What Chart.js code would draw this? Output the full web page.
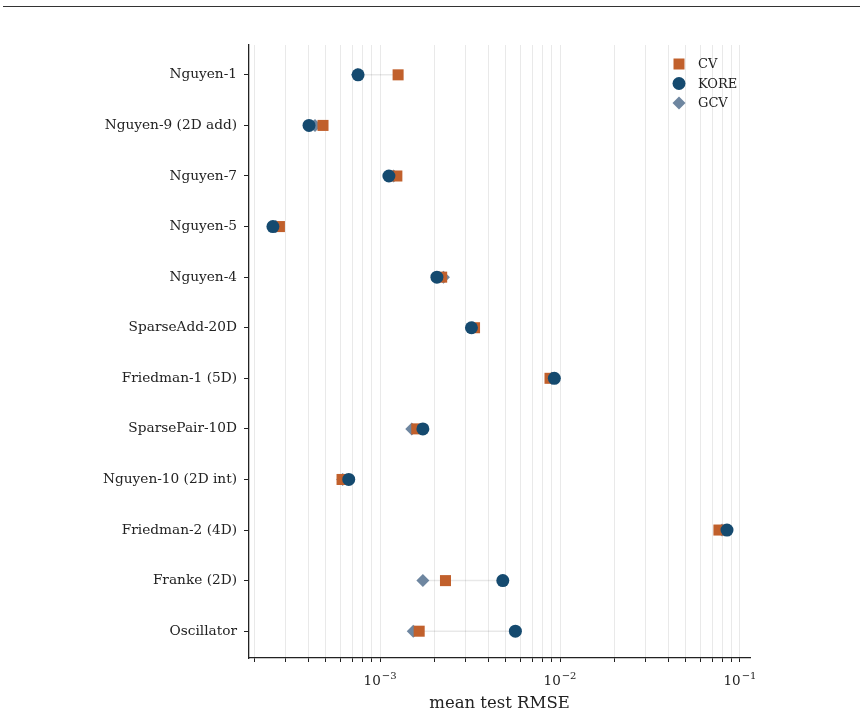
<!DOCTYPE html>
<html>
<head>
<meta charset="utf-8">
<title>mean test RMSE</title>
<script src="https://cdn.jsdelivr.net/npm/chart.js@4.4.0/dist/chart.umd.min.js"></script>
<style>
  html, body { margin: 0; padding: 0; background: #fff; }
  #wrap { position: relative; width: 862px; height: 718px; }
  #rule { position: absolute; left: 3px; right: 2px; top: 6px; border-top: 1.5px solid #333; }
  canvas { position: absolute; left: 0; top: 0; }
</style>
</head>
<body>
<div id="wrap">
  <div id="rule"></div>
  <canvas id="chart" width="862" height="718"></canvas>
</div>
<script>
// benchmarks, top to bottom
const benchmarks = [
  'Nguyen-1', 'Nguyen-9 (2D add)', 'Nguyen-7', 'Nguyen-5', 'Nguyen-4', 'SparseAdd-20D',
  'Friedman-1 (5D)', 'SparsePair-10D', 'Nguyen-10 (2D int)', 'Friedman-2 (4D)', 'Franke (2D)', 'Oscillator'
];
const cvRmse   = [1.26e-3, 4.82e-4, 1.24e-3, 2.76e-4, 2.20e-3, 3.35e-3, 8.80e-3, 1.60e-3, 6.15e-4, 0.0764, 2.31e-3, 1.65e-3];
const koreRmse = [7.55e-4, 4.03e-4, 1.12e-3, 2.54e-4, 2.07e-3, 3.22e-3, 9.30e-3, 1.73e-3, 6.70e-4, 0.0847, 4.81e-3, 5.65e-3];
const gcvRmse  = [7.50e-4, 4.35e-4, 1.19e-3, 2.64e-4, 2.25e-3, 3.28e-3, 9.00e-3, 1.50e-3, 6.20e-4, 0.0795, 1.73e-3, 1.53e-3];

const xMin = 1.87e-4, xMax = 0.1137;
const majorTicks = [1e-3, 1e-2, 1e-1];
const majorBase = ['10', '10', '10'];
const majorExp = ['−3', '−2', '−1'];
const decades = [1e-4, 1e-3, 1e-2];
const minorSteps = [2, 3, 4, 5, 6, 7, 8, 9];

const SERIF = '"DejaVu Serif", "Liberation Serif", serif';
const INK = '#222';

const series = [
  { label: 'CV',   values: cvRmse,   color: '#c1602c', style: 'rect',    radius: 7.8, order: 1 },
  { label: 'KORE', values: koreRmse, color: '#154a6f', style: 'circle',  radius: 6.5, order: 0 },
  { label: 'GCV',  values: gcvRmse,  color: '#6e86a0', style: 'rectRot', radius: 6.5, order: 2 }
];

const datasets = series.map(s => ({
  label: s.label,
  data: s.values.map((v, i) => ({ x: v, y: i })),
  backgroundColor: s.color,
  borderColor: s.color,
  borderWidth: 0,
  pointStyle: s.style,
  pointRadius: s.radius,
  pointHoverRadius: s.radius,
  order: s.order
}));

// thin grey line from the lowest to the highest value of each row
const rangeLines = {
  id: 'rangeLines',
  beforeDatasetsDraw(chart) {
    const { ctx, scales: { x, y } } = chart;
    ctx.save();
    ctx.strokeStyle = 'rgba(0,0,0,0.09)';
    ctx.lineWidth = 1.5;
    benchmarks.forEach((b, i) => {
      const vals = series.map(s => s.values[i]);
      const py = y.getPixelForValue(i);
      ctx.beginPath();
      ctx.moveTo(x.getPixelForValue(Math.min(...vals)), py);
      ctx.lineTo(x.getPixelForValue(Math.max(...vals)), py);
      ctx.stroke();
    });
    ctx.restore();
  }
};

// 10^n labels with a raised exponent
const powerLabels = {
  id: 'powerLabels',
  afterDraw(chart) {
    const { ctx, chartArea, scales: { x } } = chart;
    ctx.save();
    ctx.fillStyle = INK;
    ctx.textBaseline = 'alphabetic';
    ctx.textAlign = 'left';
    const base = '13.5px ' + SERIF, sup = '10px ' + SERIF;
    majorTicks.forEach((t, k) => {
      ctx.font = base;
      const wb = ctx.measureText(majorBase[k]).width;
      ctx.font = sup;
      const we = ctx.measureText(majorExp[k]).width;
      const left = x.getPixelForValue(t) - (wb + we + 1) / 2;
      const baseY = chartArea.bottom + 27;
      ctx.font = base;
      ctx.fillText(majorBase[k], left, baseY);
      ctx.font = sup;
      ctx.fillText(majorExp[k], left + wb + 1, baseY - 6);
    });
    ctx.restore();
  }
};

// legend in the upper right corner of the plot
const cornerLegend = {
  id: 'cornerLegend',
  afterDraw(chart) {
    const { ctx, chartArea } = chart;
    const mx = chartArea.right - 71, tx = chartArea.right - 52;
    ctx.save();
    ctx.font = '13px ' + SERIF;
    ctx.textBaseline = 'middle';
    series.forEach((s, i) => {
      const cy = chartArea.top + 19 + i * 19.5;
      ctx.fillStyle = s.color;
      ctx.beginPath();
      if (s.style === 'rect') ctx.rect(mx - 5.5, cy - 5.5, 11, 11);
      else if (s.style === 'circle') ctx.arc(mx, cy, 6.5, 0, Math.PI * 2);
      else { ctx.moveTo(mx, cy - 6.5); ctx.lineTo(mx + 6.5, cy); ctx.lineTo(mx, cy + 6.5); ctx.lineTo(mx - 6.5, cy); ctx.closePath(); }
      ctx.fill();
      ctx.fillStyle = INK;
      ctx.fillText(s.label, tx, cy + 1);
    });
    ctx.restore();
  }
};

new Chart(document.getElementById('chart'), {
  type: 'scatter',
  data: { datasets },
  plugins: [rangeLines, powerLabels, cornerLegend],
  options: {
    responsive: false,
    animation: false,
    devicePixelRatio: 1,
    layout: { padding: { top: 45, right: 112, left: 0, bottom: 0 } },
    plugins: { legend: { display: false }, tooltip: { enabled: false } },
    scales: {
      x: {
        type: 'logarithmic',
        min: xMin,
        max: xMax,
        afterBuildTicks(scale) {
          const vals = [];
          decades.forEach(d => {
            vals.push(d);
            minorSteps.forEach(m => vals.push(d * m));
          });
          vals.push(1e-1);
          scale.ticks = vals.filter(v => v >= xMin && v <= xMax).map(v => ({ value: v }));
        },
        afterFit(scale) { scale.height = 60; },
        grid: { display: true, drawOnChartArea: true, color: '#e9e9e9', lineWidth: 1, tickLength: 4, tickColor: INK, tickWidth: 1 },
        border: { display: true, color: INK, width: 1.3 },
        ticks: {
          autoSkip: false,
          maxRotation: 0,
          padding: 6,
          color: INK,
          font: { family: SERIF, size: 13 },
          callback() { return ''; }
        },
        title: { display: true, text: 'mean test RMSE', color: INK, font: { family: SERIF, size: 16.5 }, padding: { top: 4, bottom: 4 } }
      },
      y: {
        type: 'linear',
        reverse: true,
        min: -0.59,
        max: 11.53,
        afterBuildTicks(scale) {
          scale.ticks = benchmarks.map((b, i) => ({ value: i }));
        },
        afterFit(scale) { scale.width = 249; },
        grid: { display: true, drawOnChartArea: false, tickLength: 5, tickColor: INK, tickWidth: 1 },
        border: { display: true, color: INK, width: 1.3 },
        ticks: {
          autoSkip: false,
          padding: 7,
          color: INK,
          font: { family: SERIF, size: 13.7 },
          callback(v) { return benchmarks[v]; }
        }
      }
    }
  }
});
</script>
</body>
</html>
